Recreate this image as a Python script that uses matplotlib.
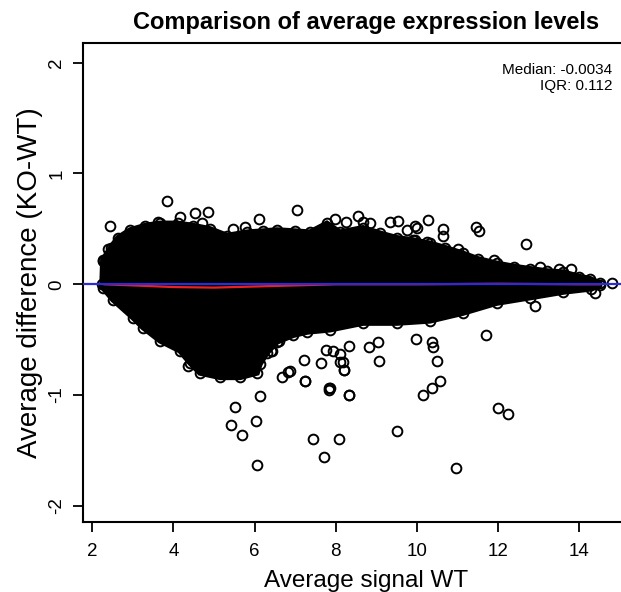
import matplotlib
matplotlib.use("Agg")
import matplotlib.pyplot as plt
import numpy as np

plt.rcParams['font.family'] = ['Liberation Sans', 'DejaVu Sans']
plt.rcParams['axes.unicode_minus'] = False

# ---- data ----
# dense cloud envelope (upper edge, left to right)
upper_x = [2.24, 2.26, 2.45, 2.63, 2.93, 3.3, 3.67, 4.1, 4.49, 4.9, 5.32, 5.81, 6.2, 6.55, 7.0,
           7.36, 7.78, 8.1, 8.67, 9.1, 9.5, 9.9, 10.32, 10.7, 11.13, 11.5, 11.96, 12.4, 12.79,
           13.2, 13.6, 14.0, 14.27, 14.5]
upper_y = [0.0, 0.22, 0.33, 0.42, 0.49, 0.53, 0.55, 0.55, 0.53, 0.50, 0.44, 0.47, 0.48, 0.49, 0.48,
           0.47, 0.55, 0.47, 0.51, 0.46, 0.42, 0.40, 0.37, 0.33, 0.28, 0.23, 0.19, 0.16, 0.14,
           0.12, 0.11, 0.07, 0.05, 0.01]
# dense cloud envelope (lower edge, right to left)
lower_x = [14.5, 14.3, 13.6, 12.79, 11.96, 11.13, 10.32, 9.5, 8.67, 7.86, 7.3, 6.95, 6.55, 6.3,
           6.13, 6.06, 5.64, 5.15, 4.65, 4.41, 4.16, 3.67, 3.25, 3.0, 2.51, 2.26]
lower_y = [-0.01, -0.04, -0.07, -0.12, -0.17, -0.26, -0.33, -0.35, -0.35, -0.41, -0.43, -0.46, -0.52,
           -0.62, -0.72, -0.80, -0.84, -0.84, -0.80, -0.71, -0.60, -0.51, -0.39, -0.30, -0.14, -0.03]

# sparse individual points outside the cloud
out_x = [3.83, 2.44, 4.53, 4.85, 4.16, 3.62, 4.70, 6.11, 7.05, 5.47, 5.76, 2.38, 2.26,
         6.13, 5.52, 7.24, 7.83, 6.67, 6.87, 7.22, 7.63, 6.43, 4.36,
         6.03, 5.42, 5.68, 6.05, 7.43, 8.07, 7.71, 8.33, 7.83, 7.23, 6.40, 6.60, 6.81,
         7.76, 7.93, 8.10, 8.18, 8.20, 8.32,
         8.33, 9.07, 8.19, 8.10, 7.86, 8.83, 9.05, 9.97, 10.36, 10.40, 10.49, 10.57, 10.36, 10.16,
         12.00, 12.24, 11.70, 12.91, 14.39, 9.50, 10.97,
         8.54, 10.27, 9.54, 9.34, 11.45, 11.53, 12.68, 10.65, 10.65, 9.95, 10.01, 9.75, 9.95, 10.24,
         11.02, 11.90, 13.03, 13.51, 13.79, 14.80, 8.68, 8.84, 8.25, 7.98]
out_y = [0.75, 0.53, 0.64, 0.65, 0.61, 0.56, 0.55, 0.59, 0.67, 0.50, 0.52, 0.32, 0.21,
         -1.01, -1.11, -0.87, -0.94, -0.84, -0.78, -0.68, -0.71, -0.60, -0.74,
         -1.23, -1.27, -1.36, -1.63, -1.40, -1.40, -1.56, -1.00, -0.95, -0.87, -0.60, -0.51, -0.79,
         -0.59, -0.60, -0.63, -0.70, -0.77, -0.56,
         -1.00, -0.69, -0.77, -0.70, -0.94, -0.57, -0.52, -0.49, -0.52, -0.57, -0.69, -0.87, -0.94, -1.00,
         -1.12, -1.17, -0.46, -0.20, -0.08, -1.32, -1.66,
         0.62, 0.58, 0.57, 0.56, 0.52, 0.48, 0.36, 0.50, 0.44, 0.53, 0.51, 0.49, 0.40, 0.38,
         0.32, 0.22, 0.16, 0.14, 0.14, 0.01, 0.56, 0.55, 0.56, 0.59]

# loess trend (red)
trend_x = [2.3, 3.0, 4.0, 5.0, 6.0, 7.0, 8.0, 10.0, 12.0, 14.0, 14.5]
trend_y = [0.0, -0.01, -0.025, -0.03, -0.02, -0.01, 0.0, 0.0, 0.005, 0.0, 0.0]

x_ticks = [2, 4, 6, 8, 10, 12, 14]
y_ticks = [-2, -1, 0, 1, 2]
title = "Comparison of average expression levels"
xlabel = "Average signal WT"
ylabel = "Average difference (KO-WT)"
median_txt = "Median: -0.0034"
iqr_txt = "IQR: 0.112"

# ---- figure ----
W, H = 621, 592
fig = plt.figure(figsize=(W / 100, H / 100), dpi=100)
ax_l, ax_r, ax_t, ax_b = 83.3, 648.7, 43.3, 522.3
ax = fig.add_axes([ax_l / W, 1 - ax_b / H, (ax_r - ax_l) / W, (ax_b - ax_t) / H])
ax.set_xlim(1.778, 15.71)
ax.set_ylim(-2.148, 2.175)

poly_x = upper_x + lower_x
poly_y = upper_y + lower_y
ax.fill(poly_x, poly_y, facecolor='black', edgecolor='black', linewidth=4, zorder=2)
ax.plot(upper_x, upper_y, 'o', ms=7, mfc='none', mec='black', mew=1.4, zorder=2)
ax.plot(lower_x, lower_y, 'o', ms=7, mfc='none', mec='black', mew=1.4, zorder=2)
ax.plot(out_x, out_y, 'o', ms=7, mfc='none', mec='black', mew=1.4, zorder=2)

ax.plot(trend_x, trend_y, color='#e8231f', lw=1.6, zorder=3)
ax.axhline(0, color='#2b2bd9', lw=1.6, zorder=4)

for s in ['top', 'left', 'bottom', 'right']:
    ax.spines[s].set_linewidth(1.5)

ax.set_xticks(x_ticks)
ax.set_xticklabels([str(v) for v in x_ticks], fontsize=13.5)
ax.set_yticks(y_ticks)
ax.set_yticklabels([str(v) for v in y_ticks], fontsize=13.5, rotation=90, va='center')
ax.tick_params(axis='both', direction='out', length=7, width=1.3)
ax.tick_params(axis='x', pad=8)
ax.tick_params(axis='y', pad=6)

ax.set_xlabel(xlabel, fontsize=17.5, labelpad=7)
ax.set_ylabel(ylabel, fontsize=20, labelpad=4)

fig.text(366 / W, 1 - 22 / H, title, fontsize=17, fontweight='bold', ha='center', va='center')
fig.text(612 / W, 1 - 74 / H, median_txt, fontsize=11, ha='right', va='baseline')
fig.text(612 / W, 1 - 90 / H, iqr_txt, fontsize=11, ha='right', va='baseline')

fig.savefig("out.png", dpi=100)
